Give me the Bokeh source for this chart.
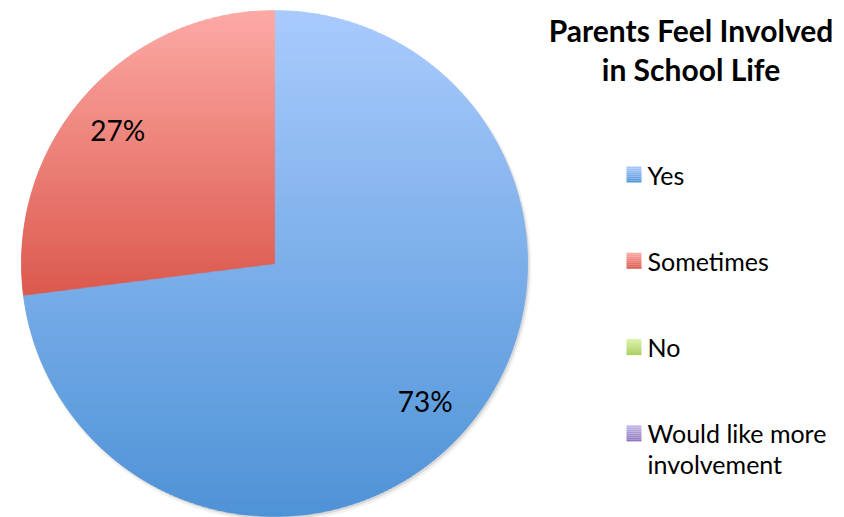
import numpy as np
from bokeh.plotting import figure
from bokeh.models import ColumnDataSource
from bokeh.core.properties import value
from bokeh.embed import file_html
from bokeh.resources import INLINE

# ---------------- data ----------------
title_lines = ["Parents Feel Involved", "in School Life"]
categories = ["Yes", "Sometimes", "No", "Would like more involvement"]
legend_lines = [["Yes"], ["Sometimes"], ["No"], ["Would like more", "involvement"]]
percent = [73, 27, 0, 0]
top_colors = ["#aacbfd", "#fdaaa6", "#dcf3a8", "#c6b8e6"]
bottom_colors = ["#4f93d7", "#dc5a4e", "#a9cd60", "#8b73bc"]

# ---------------- layout ----------------
W, H = 844, 517
CX, CY, R = 274, 517 - 263, 253
LABEL_R = 0.81
FONT = "Lato"


def py(page_y):
    """page pixel y -> data y"""
    return H - page_y


def px(page_x):
    return page_x


def hex2rgb(h):
    h = h.lstrip("#")
    return np.array([int(h[i:i + 2], 16) for i in (0, 2, 4)], dtype=float)


def mix(c0, c1, t):
    a, b = hex2rgb(c0), hex2rgb(c1)
    c = a + (b - a) * t
    return "#%02x%02x%02x" % tuple(int(round(v)) for v in c)


def clip_y(pts, yc, keep_ge):
    out = []
    n = len(pts)
    for i in range(n):
        a = pts[i]
        b = pts[(i + 1) % n]
        ina = a[1] >= yc if keep_ge else a[1] <= yc
        inb = b[1] >= yc if keep_ge else b[1] <= yc
        if ina:
            out.append(a)
        if ina != inb:
            t = (yc - a[1]) / (b[1] - a[1])
            out.append((a[0] + t * (b[0] - a[0]), yc))
    return out


p = figure(width=W, height=H, x_range=(0, W), y_range=(0, H),
           output_backend="svg", toolbar_location=None, min_border=0)
p.axis.visible = False
p.grid.visible = False
p.outline_line_color = None
p.background_fill_color = "white"
p.border_fill_color = "white"

# soft shadow
p.circle(x=[CX + 2], y=[CY - 3], radius=R + 2, fill_color="black", fill_alpha=0.05, line_color=None)
p.circle(x=[CX + 1.5], y=[CY - 2], radius=R + 0.5, fill_color="black", fill_alpha=0.10, line_color=None)

# pie slices with vertical gradient (per slice bounding box)
total = float(sum(percent))
xs, ys, cols = [], [], []
label_x, label_y, label_t = [], [], []
cum = 0.0
for cat, v, c0, c1 in zip(categories, percent, top_colors, bottom_colors):
    frac = v / total
    if frac <= 0:
        continue
    a0 = 2 * np.pi * cum
    a1 = 2 * np.pi * (cum + frac)
    n = max(3, int(720 * frac))
    th = np.linspace(a0, a1, n)
    poly = [(CX, CY)] + [(CX + R * np.sin(t), CY + R * np.cos(t)) for t in th]
    yv = [q[1] for q in poly]
    ymin, ymax = min(yv), max(yv)
    step = 2.0
    y_hi = ymax
    while y_hi > ymin:
        y_lo = max(ymin, y_hi - step)
        band = clip_y(clip_y(poly, y_lo - 0.1, True), y_hi + 0.9, False)
        if len(band) >= 3:
            tmid = (ymax - (y_lo + y_hi) / 2) / (ymax - ymin)
            xs.append([q[0] for q in band])
            ys.append([q[1] for q in band])
            cols.append(mix(c0, c1, tmid))
        y_hi = y_lo
    mid = (a0 + a1) / 2
    label_x.append(CX + LABEL_R * R * np.sin(mid))
    label_y.append(CY + LABEL_R * R * np.cos(mid))
    label_t.append("%d%%" % v)
    cum += frac

src = ColumnDataSource(dict(xs=xs, ys=ys, c=cols))
p.patches("xs", "ys", source=src, fill_color="c", line_color="c", line_width=0.6)

p.text(x=label_x, y=label_y, text=label_t, text_font=value(FONT),
       text_font_size="28px", text_align="center", text_baseline="middle",
       text_color="#000000", x_offset=-3, y_offset=2)

# title
TX = px(690.5)
p.text(x=[TX, TX], y=[py(29), py(68)], text=title_lines, text_font=value(FONT),
       text_font_style="bold", text_font_size="30px", text_align="center",
       text_baseline="alphabetic", text_color="#000000")

# legend
sq0, row_step, line_step = 166, 86.3, 31
qx0, qx1 = px(626), px(641)
ql, qr, qt, qb, qc = [], [], [], [], []
tx, ty, tt = [], [], []
for i, (lines, c0, c1) in enumerate(zip(legend_lines, top_colors, bottom_colors)):
    top_page = sq0 + i * row_step
    nstrip = 8
    for k in range(nstrip):
        y0 = top_page + k * 2
        ql.append(qx0)
        qr.append(qx1)
        qt.append(py(y0))
        qb.append(py(y0 + 2))
        qc.append(mix(c0, c1, (k + 0.5) / nstrip))
    base = top_page + 8
    for j, line in enumerate(lines):
        tx.append(px(647))
        ty.append(py(base + j * line_step))
        tt.append(line)

p.quad(left=ql, right=qr, top=qt, bottom=qb, fill_color=qc, line_color=None)
p.text(x=tx, y=ty, text=tt, text_font=value(FONT), text_font_size="25px",
       text_align="left", text_baseline="alphabetic", text_color="#000000")

open("out.html", "w").write(file_html(p, INLINE))
